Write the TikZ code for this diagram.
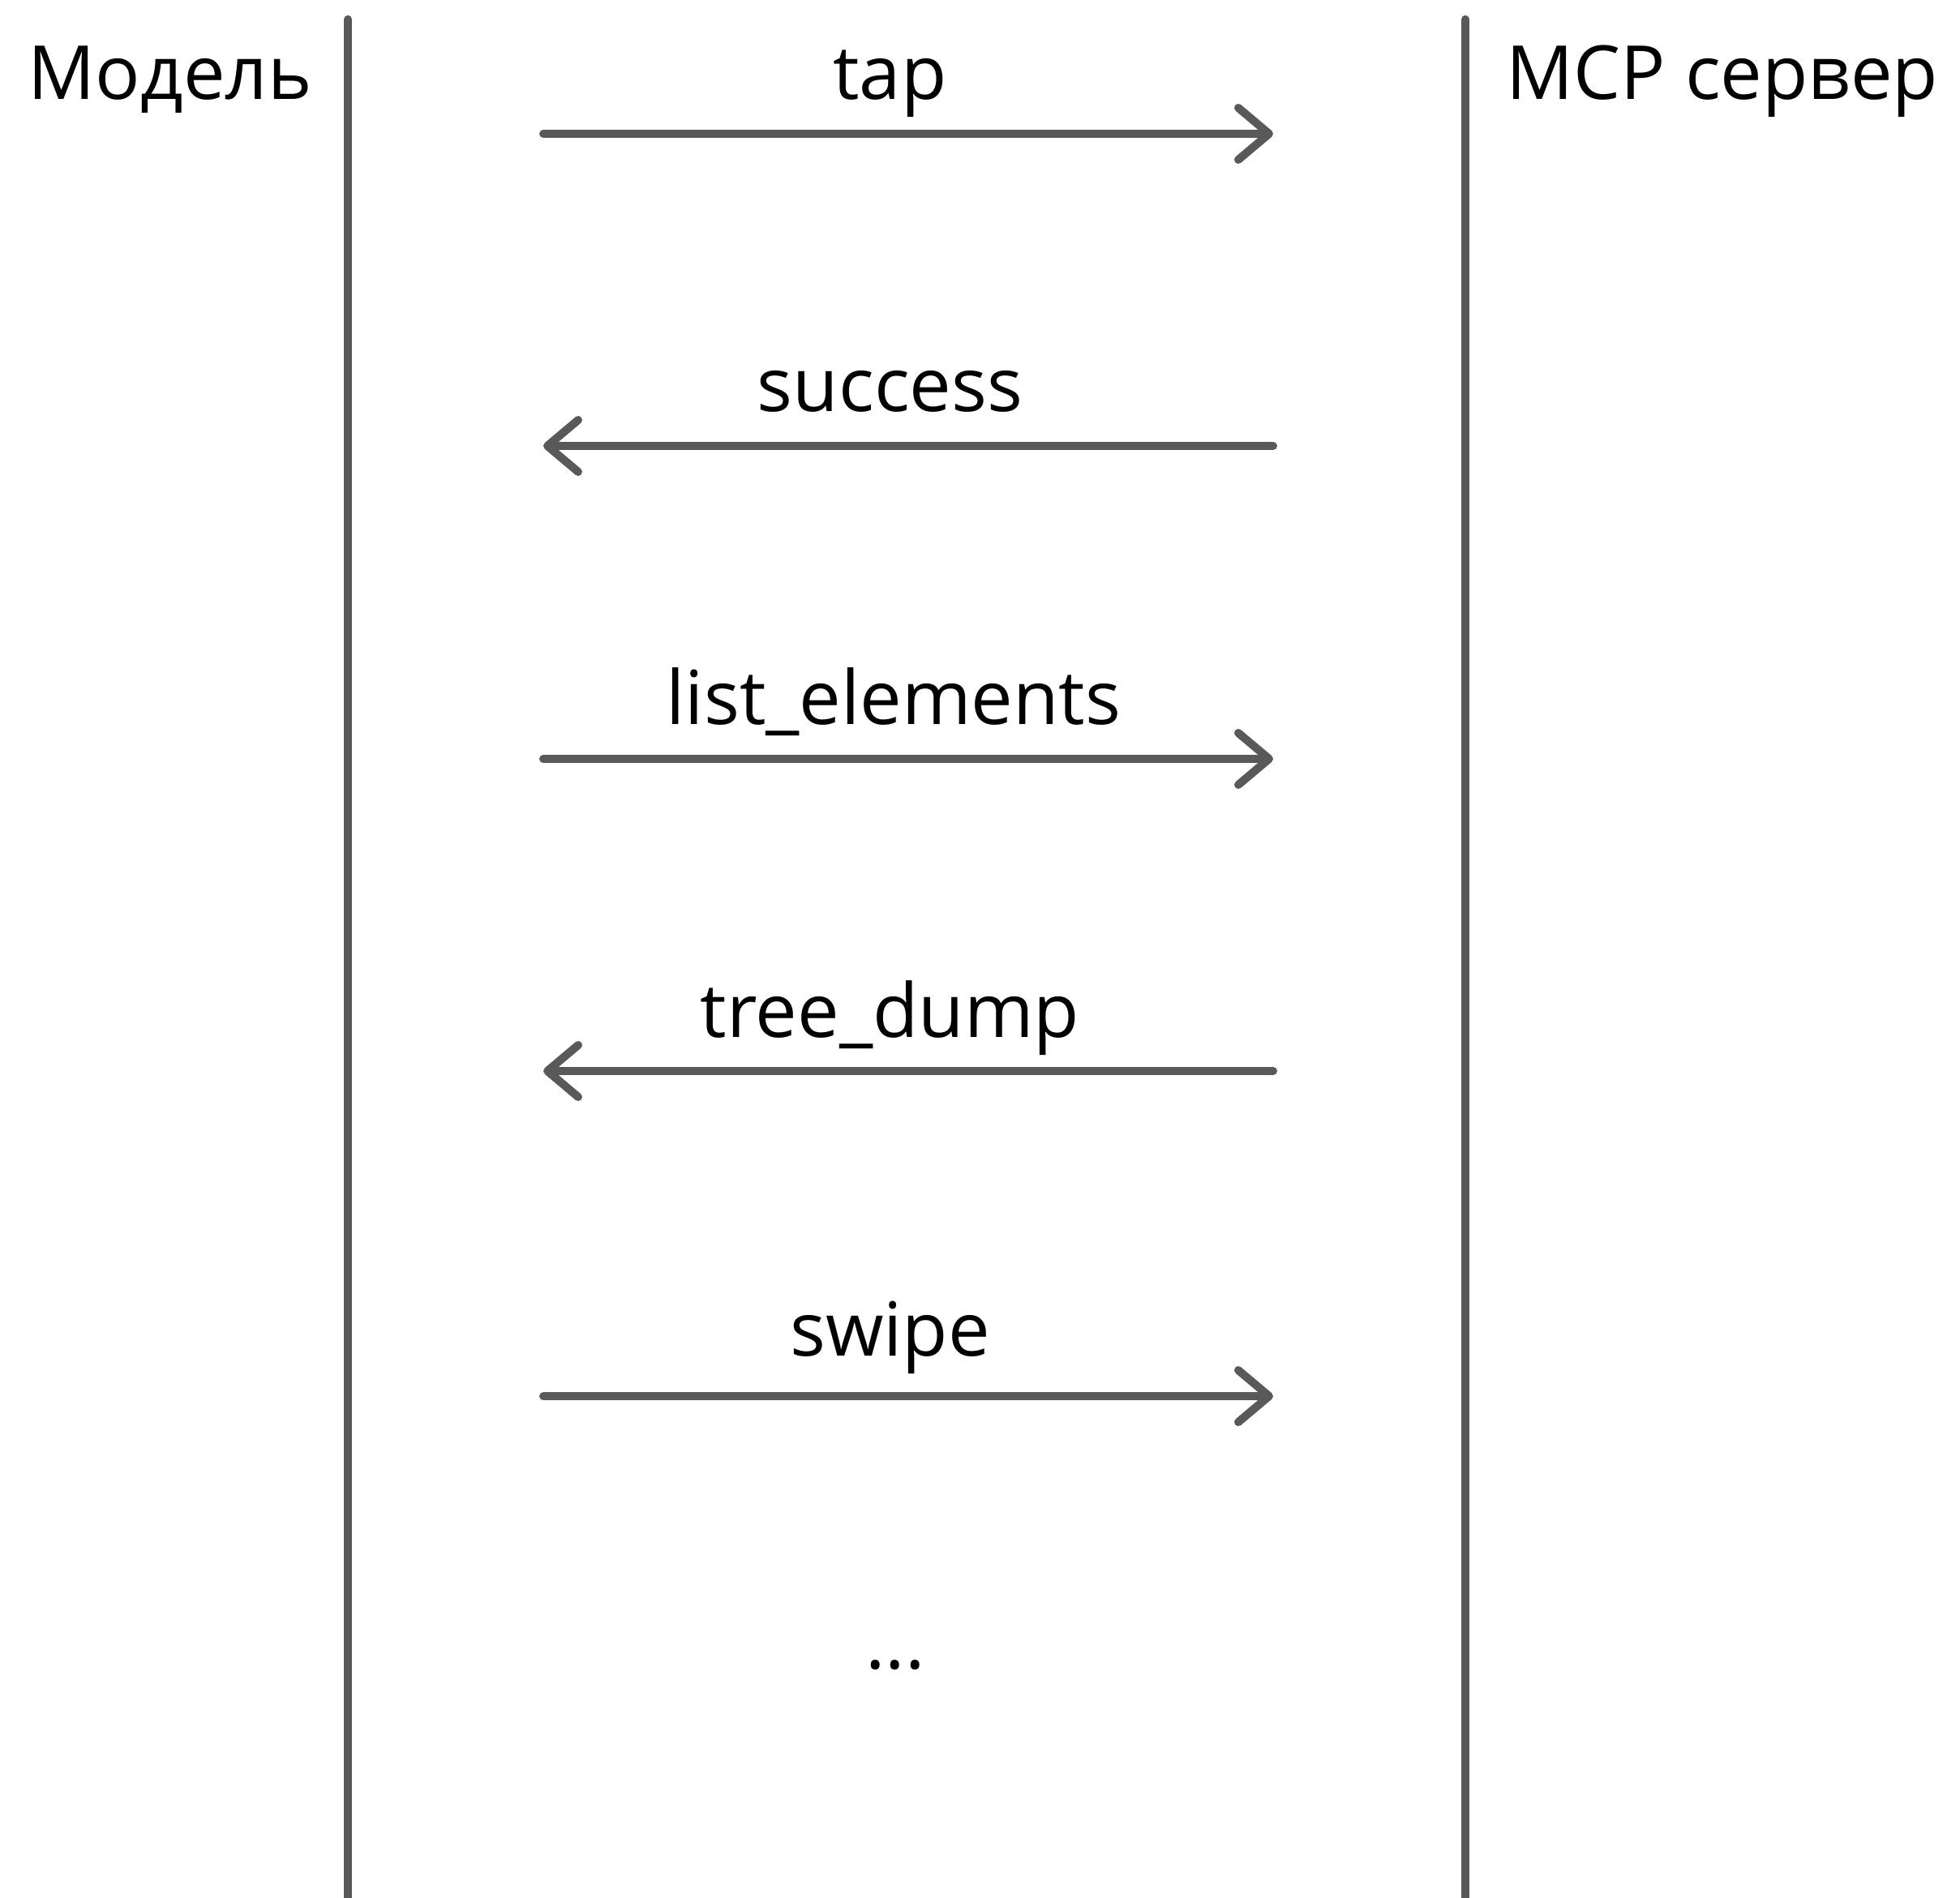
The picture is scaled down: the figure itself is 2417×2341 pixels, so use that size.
\documentclass[tikz,border=0pt]{standalone}
\usepackage{fontspec}
\setmainfont{Open Sans}
\usetikzlibrary{arrows.meta,positioning}
\definecolor{lifegray}{RGB}{89,89,89}
\tikzset{
    lifeline/.style = {draw=lifegray, line width=2.6pt, line cap=round},
    msg/.style      = {draw=lifegray, line width=2.5pt, line cap=round},
    fwd/.style      = {msg, -{Straight Barb[length=9.5pt, width=16pt, round]}},
    bwd/.style      = {msg, {Straight Barb[length=9.5pt, width=16pt, round]}-},
    txt/.style      = {font=\fontsize{23}{27}\selectfont, inner sep=0pt},
    actor/.style    = {txt, anchor=base west},
    lbl/.style      = {txt, anchor=base, yshift=10.5pt},
}
\begin{document}
\begin{tikzpicture}[x=0.25pt, y=-0.25pt]
    \useasboundingbox (0,0) rectangle (2417,2341);
    % Lifelines
    \coordinate (mtop) at (429,24);
    \coordinate (mbot) at (429,2370);
    \coordinate (stop) at (1807,24);
    \coordinate (sbot) at (1807,2370);
    \draw[lifeline] (mtop) -- (mbot);
    \draw[lifeline] (stop) -- (sbot);
    % Actors
    \node[actor] (model)  at (34,123)   {Модель};
    \node[actor] (server) at (1857,123) {MCP сервер};
    % Message ends
    \coordinate (m1l) at (670,165);  \coordinate (m1r) at (1570,165);
    \coordinate (m2l) at (670,550);  \coordinate (m2r) at (1570,550);
    \coordinate (m3l) at (670,936);  \coordinate (m3r) at (1570,936);
    \coordinate (m4l) at (670,1321); \coordinate (m4r) at (1570,1321);
    \coordinate (m5l) at (670,1722); \coordinate (m5r) at (1570,1722);
    % Messages
    \draw[fwd] (m1l) -- node[lbl, pos=.475] (tap) {tap} (m1r);
    \draw[bwd] (m2l) -- node[lbl, pos=.475] (success) {success} (m2r);
    \draw[fwd] (m3l) -- node[lbl, pos=.48] (list) {list\_elements} (m3r);
    \draw[bwd] (m4l) -- node[lbl, pos=.475] (tree) {tree\_dump} (m4r);
    \draw[fwd] (m5l) -- node[lbl, pos=.475, yshift=2pt] (swipe) {swipe} (m5r);
    \node[txt, anchor=base] (more) at (1104,2058) {...};
\end{tikzpicture}
\end{document}
